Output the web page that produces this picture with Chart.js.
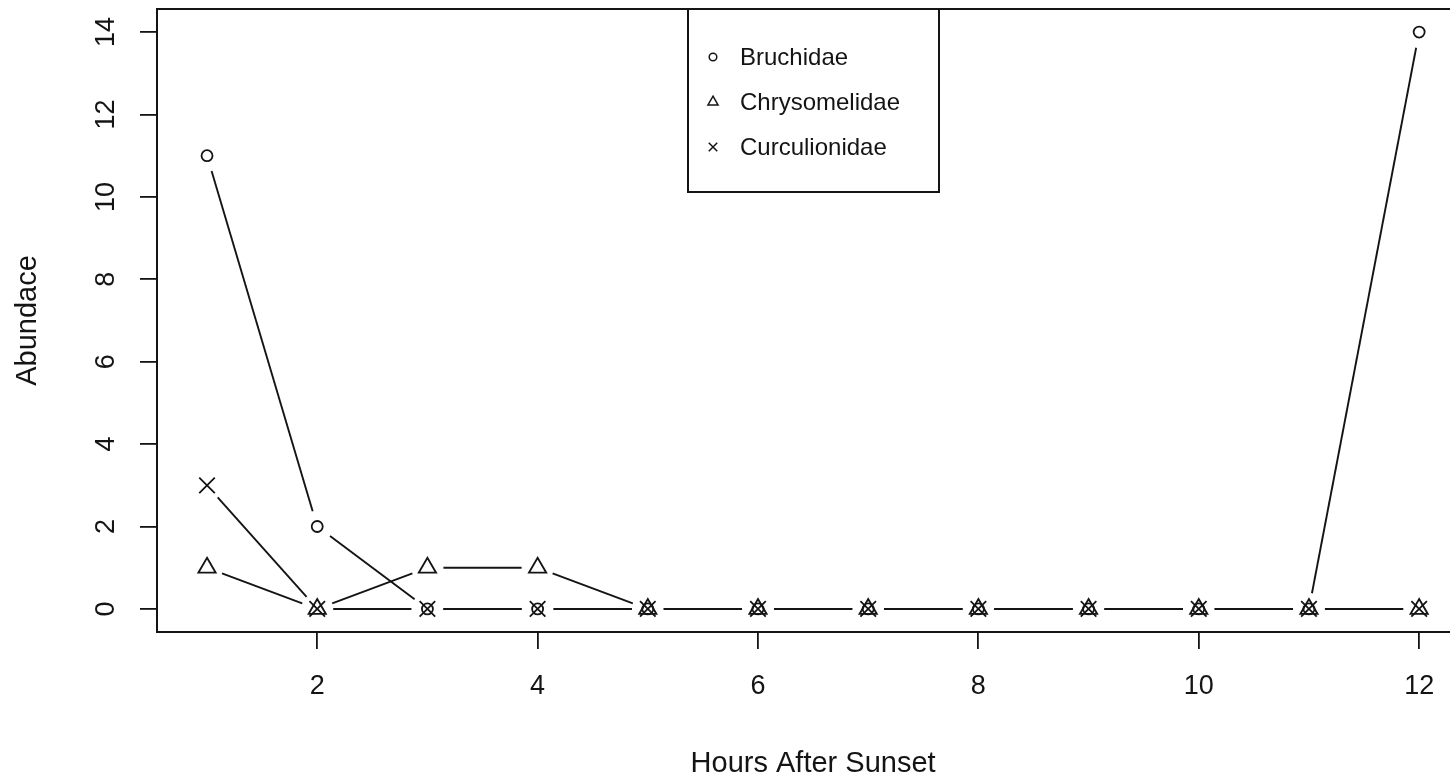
<!DOCTYPE html>
<html>
<head>
<meta charset="utf-8">
<script src="https://cdn.jsdelivr.net/npm/chart.js@4.4.1/dist/chart.umd.min.js"></script>
<style>
  html, body { margin: 0; padding: 0; background: #fff; overflow: hidden; }
  #wrap { width: 1450px; height: 780px; }
</style>
</head>
<body>
<div id="wrap"><canvas id="c" width="1450" height="780"></canvas></div>
<script>
// Hours after sunset (x) and beetle counts per family
const hours = [1, 2, 3, 4, 5, 6, 7, 8, 9, 10, 11, 12];
const bruchidae     = [11, 2, 0, 0, 0, 0, 0, 0, 0, 0, 0, 14];
const chrysomelidae = [1, 0, 1, 1, 0, 0, 0, 0, 0, 0, 0, 0];
const curculionidae = [3, 0, 0, 0, 0, 0, 0, 0, 0, 0, 0, 0];
const seriesNames = ['Bruchidae', 'Chrysomelidae', 'Curculionidae'];
const xTicks = [2, 4, 6, 8, 10, 12];
const yTicks = [0, 2, 4, 6, 8, 10, 12, 14];
// visible axis window (the frame's right side lies past the canvas edge)
const xRange = [0.546, 12.28];
const yRange = [-0.56, 14.56];
const xTitle = 'Hours After Sunset';
const yTitle = 'Abundace';

const INK = '#141414';
const FONT = '"Liberation Sans", Arial, Helvetica, sans-serif';

function pts(vals) { return hours.map((h, i) => ({ x: h, y: vals[i] })); }

const styles = [
  { pointStyle: 'circle',   radius: 5.5, legendRadius: 3.8 },
  { pointStyle: 'triangle', radius: 10,  legendRadius: 5.8 },
  { pointStyle: 'crossRot', radius: 11,  legendRadius: 6 }
];
const seriesData = [bruchidae, chrysomelidae, curculionidae];

const datasets = seriesData.map((vals, i) => ({
  label: seriesNames[i],
  data: pts(vals),
  showLine: false,
  pointStyle: styles[i].pointStyle,
  pointRadius: styles[i].radius,
  pointHoverRadius: styles[i].radius,
  pointBorderWidth: 1.8,
  pointBorderColor: INK,
  pointBackgroundColor: 'rgba(0,0,0,0)',
  borderColor: INK,
  clip: false
}));

// Connecting segments with a gap around each marker ("both" style plot)
const gappedLines = {
  id: 'gappedLines',
  beforeDatasetsDraw(chart) {
    const ctx = chart.ctx;
    const gap = 16;
    ctx.save();
    ctx.strokeStyle = INK;
    ctx.lineWidth = 1.9;
    chart.data.datasets.forEach((ds, di) => {
      const els = chart.getDatasetMeta(di).data;
      for (let k = 0; k < els.length - 1; k++) {
        const a = els[k], b = els[k + 1];
        const dx = b.x - a.x, dy = b.y - a.y;
        const len = Math.hypot(dx, dy);
        if (len <= 2 * gap) continue;
        const ux = dx / len, uy = dy / len;
        ctx.beginPath();
        ctx.moveTo(a.x + ux * gap, a.y + uy * gap);
        ctx.lineTo(b.x - ux * gap, b.y - uy * gap);
        ctx.stroke();
      }
    });
    ctx.restore();
  }
};

// Frame (top, left, bottom), rotated y labels, x title and the legend box
const frameAndLegend = {
  id: 'frameAndLegend',
  afterDraw(chart) {
    const ctx = chart.ctx;
    const area = chart.chartArea;
    ctx.save();
    ctx.strokeStyle = INK;
    ctx.lineWidth = 2;
    ctx.beginPath();
    ctx.moveTo(area.right + 20, area.top);
    ctx.lineTo(area.left, area.top);
    ctx.lineTo(area.left, area.bottom);
    ctx.lineTo(area.right + 20, area.bottom);
    ctx.stroke();

    // vertical tick labels on the y axis
    const ys = chart.scales.y;
    ctx.fillStyle = INK;
    ctx.font = '27px ' + FONT;
    ctx.textAlign = 'center';
    ctx.textBaseline = 'alphabetic';
    ys.ticks.forEach(t => {
      const py = ys.getPixelForValue(t.value);
      ctx.save();
      ctx.translate(area.left - 43, py);
      ctx.rotate(-Math.PI / 2);
      ctx.fillText(String(t.value), 0, 0);
      ctx.restore();
    });

    // x axis title, centred under the full span of hours
    const xs = chart.scales.x;
    const mid = (hours[0] + hours[hours.length - 1]) / 2;
    ctx.font = '29px ' + FONT;
    ctx.textAlign = 'center';
    ctx.textBaseline = 'middle';
    ctx.fillText(xTitle, xs.getPixelForValue(mid), xs.bottom - 16.5);

    // legend
    const box = { x: 688, y: area.top, w: 251, h: 183 };
    ctx.fillStyle = '#fff';
    ctx.fillRect(box.x, box.y, box.w, box.h);
    ctx.lineWidth = 2;
    ctx.strokeRect(box.x, box.y, box.w, box.h);
    const rows = [57, 102, 147];
    ctx.font = '24px ' + FONT;
    ctx.textAlign = 'left';
    ctx.textBaseline = 'middle';
    chart.data.datasets.forEach((ds, i) => {
      ctx.strokeStyle = INK;
      ctx.fillStyle = 'rgba(0,0,0,0)';
      ctx.lineWidth = 1.5;
      Chart.helpers.drawPoint(ctx, {
        pointStyle: styles[i].pointStyle,
        radius: styles[i].legendRadius,
        borderWidth: 1.5,
        rotation: 0
      }, box.x + 25, rows[i]);
      ctx.fillStyle = INK;
      ctx.fillText(ds.label, box.x + 52, rows[i] + 1);
    });
    ctx.restore();
  }
};

function noSidePadding(s) { s.paddingLeft = 0; s.paddingRight = 0; }

new Chart(document.getElementById('c'), {
  type: 'line',
  data: { datasets },
  options: {
    responsive: false,
    animation: false,
    events: [],
    layout: { autoPadding: false, padding: { left: 0, top: 9, right: 0, bottom: 0 } },
    plugins: { legend: { display: false }, tooltip: { enabled: false } },
    scales: {
      x: {
        type: 'linear',
        min: xRange[0],
        max: xRange[1],
        afterBuildTicks: s => { s.ticks = xTicks.map(v => ({ value: v })); },
        afterFit: s => { s.height = 148; noSidePadding(s); },
        grid: { drawOnChartArea: false, drawTicks: true, tickLength: 17, color: INK, lineWidth: 1.8 },
        border: { display: false },
        ticks: { color: INK, font: { size: 27, family: FONT }, padding: 21, maxRotation: 0 },
        title: { display: false }
      },
      y: {
        type: 'linear',
        min: yRange[0],
        max: yRange[1],
        afterBuildTicks: s => { s.ticks = yTicks.map(v => ({ value: v })); },
        afterFit: s => { s.width = 157; noSidePadding(s); },
        grid: { drawOnChartArea: false, drawTicks: true, tickLength: 17, color: INK, lineWidth: 1.8 },
        border: { display: false },
        ticks: { display: false },
        title: {
          display: true,
          text: yTitle,
          color: INK,
          font: { size: 29, family: FONT, lineHeight: 1 },
          padding: { top: 13, bottom: 0 }
        }
      }
    }
  },
  plugins: [gappedLines, frameAndLegend]
});
</script>
</body>
</html>
